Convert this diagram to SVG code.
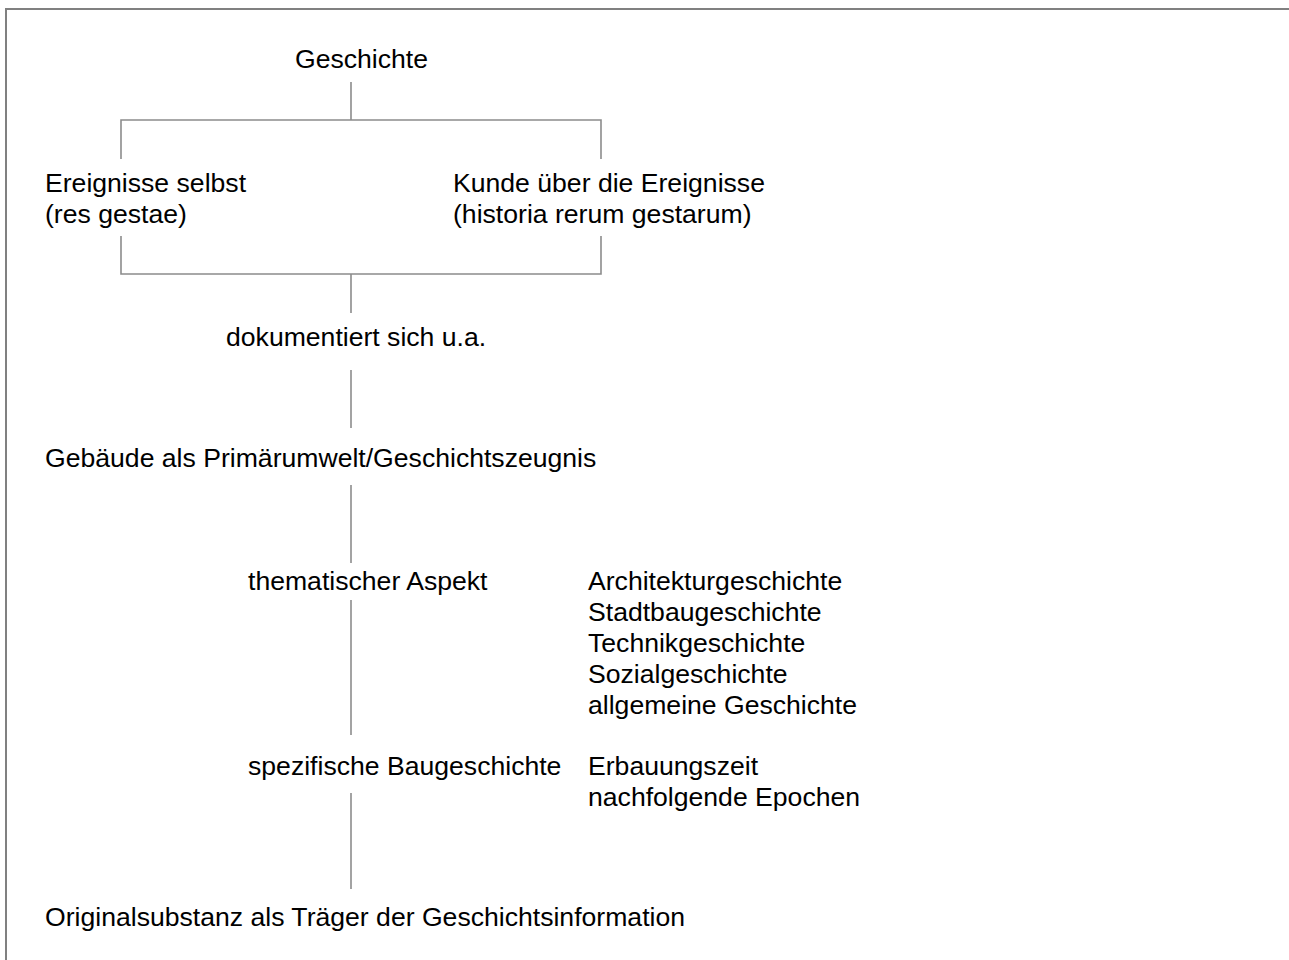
<svg xmlns="http://www.w3.org/2000/svg" width="1289" height="960" viewBox="0 0 1289 960">
<style>
text{font-family:"Liberation Sans",Arial,sans-serif;font-size:26.6px;fill:#000}
.ln{stroke:#8c8c8c;stroke-width:1.6;fill:none}
</style>
<rect x="0" y="0" width="1289" height="960" fill="#fff"/>
<rect x="6" y="9" width="1300" height="1000" fill="none" stroke="#808080" stroke-width="2"/>
<g id="connectors">
<path class="ln" d="M351 82V120M121 159V120H601V159"/>
<path class="ln" d="M121 236V274H601V236M351 274V313"/>
<path class="ln" d="M351 370V428"/>
<path class="ln" d="M351 485V563"/>
<path class="ln" d="M351 600V735"/>
<path class="ln" d="M351 793V889"/>
</g>
<g id="geschichte"><text x="295" y="68">Geschichte</text></g>
<g id="ereignisse"><text x="45" y="192">Ereignisse selbst</text><text x="45" y="223">(res gestae)</text></g>
<g id="kunde"><text x="453" y="192">Kunde über die Ereignisse</text><text x="453" y="223">(historia rerum gestarum)</text></g>
<g id="dokumentiert"><text x="226" y="346">dokumentiert sich u.a.</text></g>
<g id="gebaeude"><text x="45" y="467">Gebäude als Primärumwelt/Geschichtszeugnis</text></g>
<g id="thematisch"><text x="248" y="590">thematischer Aspekt</text></g>
<g id="thematisch-liste"><text x="588" y="590">Architekturgeschichte</text><text x="588" y="621">Stadtbaugeschichte</text><text x="588" y="652">Technikgeschichte</text><text x="588" y="683">Sozialgeschichte</text><text x="588" y="714">allgemeine Geschichte</text></g>
<g id="spezifisch"><text x="248" y="775">spezifische Baugeschichte</text></g>
<g id="spezifisch-liste"><text x="588" y="775">Erbauungszeit</text><text x="588" y="806">nachfolgende Epochen</text></g>
<g id="originalsubstanz"><text x="45" y="926">Originalsubstanz als Träger der Geschichtsinformation</text></g>
</svg>
